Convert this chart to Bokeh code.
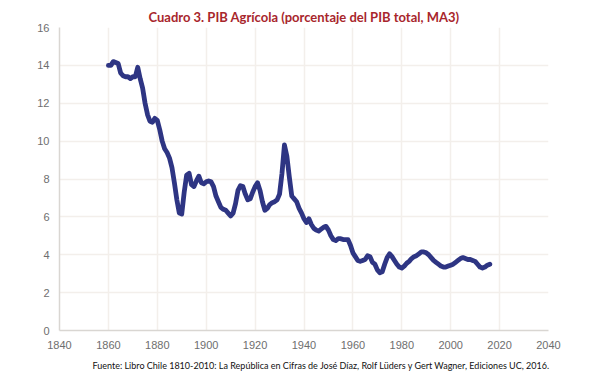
from bokeh.plotting import figure
from bokeh.models import Range1d, Title, FixedTicker, ColumnDataSource
from bokeh.embed import file_html
from bokeh.resources import INLINE

years = list(range(1860, 2017))
pib_agricola = [
    14.0, 14.0, 14.2, 14.15, 14.1, 13.6, 13.45, 13.4, 13.4, 13.3,
    13.4, 13.4, 13.9, 13.3, 12.8, 12.0, 11.4, 11.05, 11.0, 11.2,
    11.1, 10.6, 10.0, 9.6, 9.4, 9.1, 8.6, 7.8, 6.9, 6.2,
    6.15, 7.3, 8.2, 8.3, 7.7, 7.6, 7.9, 8.15, 7.8, 7.75,
    7.85, 7.9, 7.85, 7.6, 7.1, 6.8, 6.5, 6.4, 6.35, 6.2,
    6.05, 6.2, 6.7, 7.4, 7.65, 7.6, 7.2, 6.9, 6.95, 7.3,
    7.6, 7.8, 7.4, 6.8, 6.35, 6.45, 6.65, 6.75, 6.8, 6.9,
    7.2, 8.3, 9.8, 9.2, 8.1, 7.1, 6.95, 6.8, 6.45, 6.2,
    5.9, 5.7, 5.9, 5.6, 5.4, 5.3, 5.25, 5.35, 5.45, 5.5,
    5.3, 5.0, 4.8, 4.75, 4.85, 4.85, 4.8, 4.8, 4.8, 4.5,
    4.1, 3.9, 3.7, 3.65, 3.7, 3.75, 3.95, 3.9, 3.6, 3.5,
    3.2, 3.05, 3.1, 3.5, 3.85, 4.05, 3.9, 3.7, 3.5, 3.35,
    3.3, 3.4, 3.55, 3.65, 3.8, 3.9, 3.95, 4.05, 4.15, 4.15,
    4.1, 4.0, 3.85, 3.7, 3.6, 3.5, 3.4, 3.35, 3.35, 3.4,
    3.45, 3.5, 3.6, 3.7, 3.8, 3.85, 3.8, 3.75, 3.75, 3.7,
    3.65, 3.5, 3.35, 3.3, 3.35, 3.45, 3.5,
]
x_ticks = list(range(1840, 2041, 20))
y_ticks = list(range(0, 17, 2))

title_text = "Cuadro 3. PIB Agrícola (porcentaje del PIB total, MA3)"
source_text = ("Fuente: Libro Chile 1810-2010: La República en Cifras de José Díaz, "
               "Rolf Lüders y Gert Wagner,  Ediciones UC, 2016.")

p = figure(width=578, height=376, output_backend="svg", toolbar_location=None,
           x_range=Range1d(1840, 2040), y_range=Range1d(0, 16),
           min_border_left=59, min_border_right=30, min_border_top=27,
           min_border_bottom=45)
p.outline_line_color = None
p.background_fill_color = "white"

src = ColumnDataSource(dict(x=years, y=pib_agricola))
p.line("x", "y", source=src, line_color="#2e3583", line_width=4.8,
       line_join="round", line_cap="round")

for ax, ticks in ((p.xaxis[0], x_ticks), (p.yaxis[0], y_ticks)):
    ax.ticker = FixedTicker(ticks=ticks)
    ax.major_tick_line_color = None
    ax.minor_tick_line_color = None
    ax.major_tick_out = 0
    ax.major_tick_in = 0
    ax.minor_tick_out = 0
    ax.axis_label_standoff = 0
    ax.axis_line_color = "#d9d6d2"
    ax.axis_line_width = 1.5
    ax.major_label_text_color = "#6e6e6e"
    ax.major_label_text_font = "Liberation Sans"
    ax.major_label_text_font_size = "11px"
p.xaxis.major_label_standoff = 10
p.yaxis.major_label_standoff = 10

p.xgrid.grid_line_color = "#f3efeb"
p.ygrid.grid_line_color = "#f3efeb"
p.xgrid.grid_line_width = 1.5
p.ygrid.grid_line_width = 1.5

p.title.text = title_text
p.title.align = "center"
p.title.text_font = "Lato"
p.title.text_font_style = "bold"
p.title.text_font_size = "13px"
p.title.text_color = "#a8262c"
p.title.standoff = 5

p.add_layout(Title(text=source_text, align="left", offset=33, standoff=12,
                   text_font="Lato", text_font_style="normal",
                   text_font_size="9px", text_color="#111111"), "below")

open("out.html", "w").write(file_html(p, INLINE))
